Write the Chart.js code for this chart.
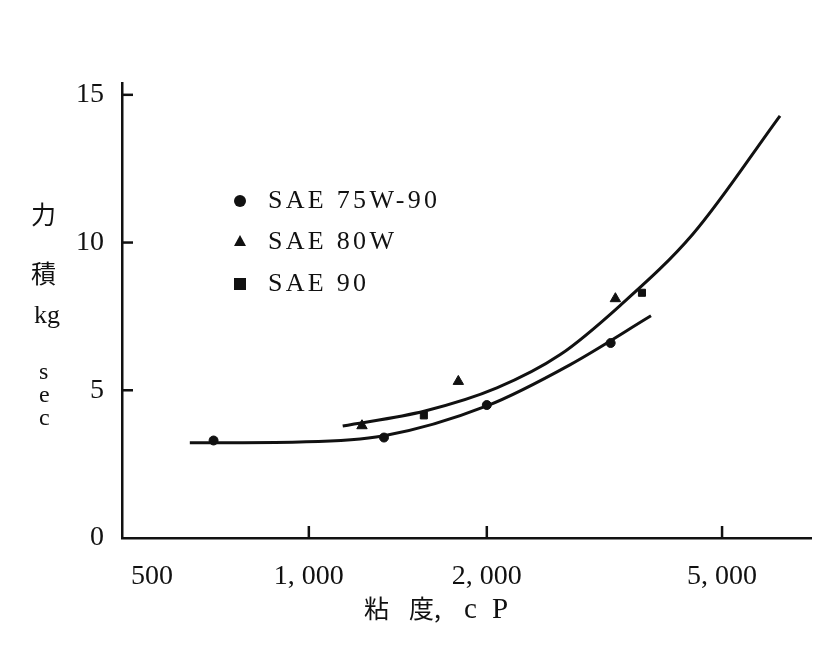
<!DOCTYPE html>
<html>
<head>
<meta charset="utf-8">
<script src="https://cdn.jsdelivr.net/npm/chart.js@4"></script>
<style>
  body { margin: 0; background: #fff; }
  #wrap { position: relative; width: 836px; height: 649px; }
  .lbl { position: absolute; font-family: "Liberation Serif", "DejaVu Serif", serif; color: #111; white-space: pre; }
  .cjk { font-family: "Noto Sans CJK JP", sans-serif; }
  .mk { position: absolute; }
</style>
</head>
<body>
<div id="wrap">
  <canvas id="c" width="836" height="649"></canvas>
  <!-- y title, stacked -->
  <div class="lbl cjk" style="left:31px;top:195px;font-size:25px;">力</div>
  <div class="lbl cjk" style="left:31px;top:254px;font-size:25px;">積</div>
  <div class="lbl" style="left:34px;top:300px;font-size:26px;">kg</div>
  <div class="lbl" style="left:39px;top:358px;font-size:24px;">s</div>
  <div class="lbl" style="left:39px;top:381px;font-size:24px;">e</div>
  <div class="lbl" style="left:39px;top:404px;font-size:24px;">c</div>
  <!-- x title -->
  <div class="lbl cjk" style="left:364px;top:589px;font-size:25px;">粘</div>
  <div class="lbl cjk" style="left:409px;top:589px;font-size:25px;">度,</div>
  <div class="lbl" style="left:464px;top:592px;font-size:29px;letter-spacing:4px;">c P</div>
  <!-- legend -->
  <div class="mk" style="left:234px;top:195px;width:12px;height:12px;border-radius:6px;background:#111;"></div>
  <div class="lbl" style="left:268px;top:185px;font-size:26px;letter-spacing:3.3px;">SAE 75W-90</div>
  <div class="mk" style="left:234px;top:235px;width:0;height:0;border-left:6px solid transparent;border-right:6px solid transparent;border-bottom:11px solid #111;"></div>
  <div class="lbl" style="left:268px;top:226px;font-size:26px;letter-spacing:3.3px;">SAE 80W</div>
  <div class="mk" style="left:234px;top:278px;width:12px;height:12px;background:#111;"></div>
  <div class="lbl" style="left:268px;top:268px;font-size:26px;letter-spacing:3.3px;">SAE 90</div>
</div>
<script>
// measured points
var circleX = [690, 1340, 2000, 3240];
var circleY = [3.3, 3.4, 4.5, 6.6];
var triX = [1230, 1790, 3300];
var triY = [3.8, 5.3, 8.1];
var squareX = [1565, 3660];
var squareY = [4.15, 8.3];

// fitted curves
var lowCurveX = [629, 965, 1334, 2000, 2764, 3791];
var lowCurveY = [3.22, 3.25, 3.45, 4.47, 5.86, 7.52];
var upCurveX = [1141, 1572, 2080, 2659, 3357, 4464, 6266];
var upCurveY = [3.79, 4.3, 5.08, 6.2, 7.86, 10.29, 14.29];

var xTicks = [500, 1000, 2000, 5000];
var yTicks = [0, 5, 10, 15];

function pts(xs, ys) {
  return xs.map(function (x, i) { return {x: x, y: ys[i]}; });
}

var ink = '#111';

var innerTicks = {
  id: 'innerTicks',
  afterDraw: function (chart) {
    var ctx = chart.ctx, xs = chart.scales.x, ys = chart.scales.y;
    ctx.save();
    ctx.strokeStyle = ink;
    ctx.lineWidth = 2.5;
    yTicks.forEach(function (v) {
      if (v == 0) return;
      var py = ys.getPixelForValue(v);
      ctx.beginPath(); ctx.moveTo(xs.left, py); ctx.lineTo(xs.left + 11, py); ctx.stroke();
    });
    xTicks.forEach(function (v) {
      if (v == 500) return;
      var px = xs.getPixelForValue(v);
      ctx.beginPath(); ctx.moveTo(px, ys.bottom); ctx.lineTo(px, ys.bottom - 12); ctx.stroke();
    });
    ctx.restore();
  }
};

var tickFont = {family: '"Liberation Serif", "DejaVu Serif", serif', size: 28};

new Chart(document.getElementById('c'), {
  type: 'scatter',
  data: {
    datasets: [
      {data: pts(lowCurveX, lowCurveY), showLine: true, borderColor: ink, borderWidth: 3,
       pointRadius: 0, cubicInterpolationMode: 'monotone'},
      {data: pts(upCurveX, upCurveY), showLine: true, borderColor: ink, borderWidth: 3,
       pointRadius: 0, cubicInterpolationMode: 'monotone'},
      {data: pts(circleX, circleY), pointStyle: 'circle', pointRadius: 4.5, backgroundColor: ink, borderColor: ink},
      {data: pts(triX, triY), pointStyle: 'triangle', pointRadius: 6, backgroundColor: ink, borderColor: ink},
      {data: pts(squareX, squareY), pointStyle: 'rect', pointRadius: 5, backgroundColor: ink, borderColor: ink}
    ]
  },
  options: {
    responsive: false,
    animation: false,
    layout: {padding: {left: 0, right: 25, top: 83, bottom: 0}},
    plugins: {legend: {display: false}, tooltip: {enabled: false}},
    scales: {
      x: {
        type: 'logarithmic',
        min: 483, max: 7070,
        afterBuildTicks: function (s) { s.ticks = xTicks.map(function (v) { return {value: v}; }); },
        afterFit: function (s) { s.height = 111; },
        border: {color: ink, width: 2.5},
        grid: {display: false, drawTicks: false},
        ticks: {color: ink, font: tickFont, padding: 22, maxRotation: 0,
                callback: function (v) {
                  // the 500 label sits a little right of the axis corner
                  if (v == 500) return '\u2003\u2002500';
                  return Number(v).toLocaleString('en-US').replace(',', ', ');
                }}
      },
      y: {
        min: 0, max: 15.4,
        afterBuildTicks: function (s) { s.ticks = yTicks.map(function (v) { return {value: v}; }); },
        afterFit: function (s) { s.width = 122; },
        border: {color: ink, width: 2.5},
        grid: {display: false, drawTicks: false},
        ticks: {color: ink, font: tickFont, padding: 18}
      }
    }
  },
  plugins: [innerTicks]
});
</script>
</body>
</html>
